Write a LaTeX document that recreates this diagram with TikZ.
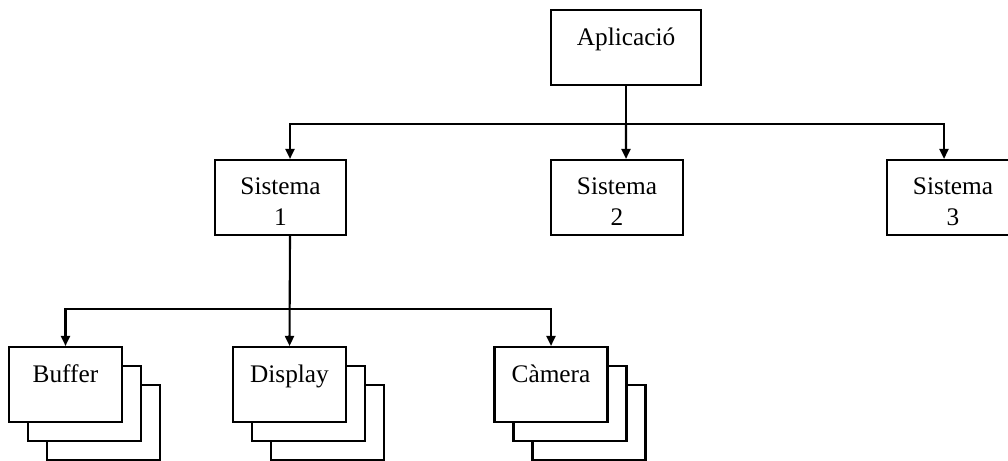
\documentclass[tikz,border=0pt]{standalone}
\usepackage{fontspec}
\setmainfont{Liberation Serif}
\usepackage{tikz}
\usetikzlibrary{
	arrows.meta,
	positioning,
	shadows
}

\begin{document}
\begin{tikzpicture}[>={Triangle[length=2mm,width=1.8mm]},line width=1.2pt,
	font=\fontsize{14.4}{17.3}\selectfont,
	box/.style={draw,fill=white,rectangle,inner xsep=0pt,inner ysep=0pt,
		text height=0.7cm,text depth=0.8cm,align=center},
	sysbox/.style={box,minimum width=2.64cm,text height=1.3cm,text depth=0.2cm},
	stackbox/.style={box,minimum width=2.26cm,
		double copy shadow={shadow xshift=0.38cm,shadow yshift=-0.38cm,draw,fill=white}}]
	
	\clip (0,0) rectangle (20.16,-9.2);
	
	% Top level
	\node[box,minimum width=3cm] (app) at (12.52,-0.95) {Aplicació};
	
	% Systems
	\node[sysbox,minimum width=2.62cm] (sis1) at (5.61,-3.95) {Sistema\\1};
	\node[sysbox] (sis2) at (12.34,-3.95) {Sistema\\2};
	\node[sysbox] (sis3) at (19.06,-3.95) {Sistema\\3};
	
	% Components
	\node[stackbox] (buf) at (1.31,-7.69) {Buffer};
	\node[stackbox] (disp) at (5.79,-7.69) {Display};
	\node[stackbox] (cam) at (11.02,-7.69) {Càmera};
	
	\coordinate (busA) at (12.52,-2.48);
	\coordinate (busB) at (5.8,-6.18);
	
	\draw (app.south) -- (busA);
	\draw[->] (busA) -| ([xshift=0.19cm]sis1.north);
	\draw[->] (busA) -- ([xshift=0.18cm]sis2.north);
	\draw[->] (busA) -| ([xshift=-0.18cm]sis3.north);
	
	\draw[->] ([xshift=0.19cm]sis1.south) -- (disp.north);
	\draw[->] (busB) -| (buf.north);
	\draw[->] (busB) -| (cam.north);
	
\end{tikzpicture}
\end{document}
